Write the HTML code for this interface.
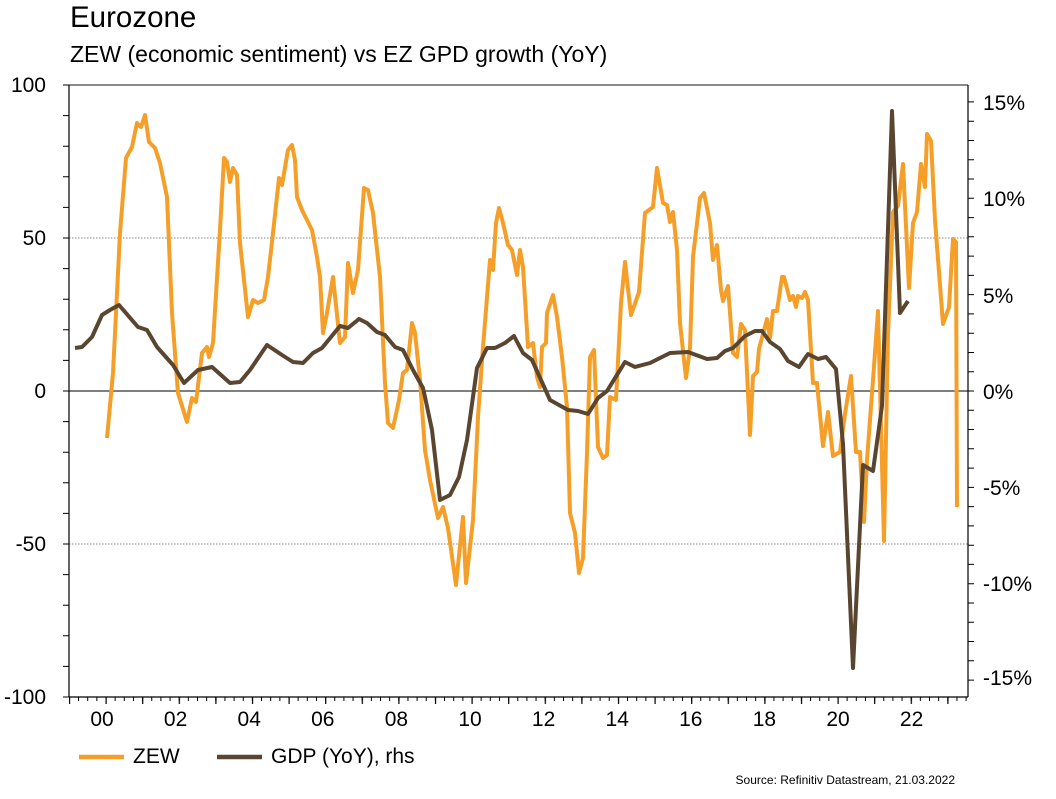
<!DOCTYPE html>
<html><head><meta charset="utf-8"><style>
body{margin:0;background:#fff;}
svg text{font-family:"Liberation Sans",Arial,sans-serif;fill:#000;}
</style></head><body>
<svg width="1056" height="794" viewBox="0 0 1056 794" xmlns="http://www.w3.org/2000/svg">
<defs>
<pattern id="qt" patternUnits="userSpaceOnUse" x="68.9" y="697" width="9.15" height="10"><rect x="0" y="0" width="1" height="4" fill="#000"/></pattern>
<pattern id="yt" patternUnits="userSpaceOnUse" x="68.9" y="697" width="36.6" height="10"><rect x="0" y="0" width="1.2" height="7" fill="#000"/></pattern>
</defs>
<rect width="1056" height="794" fill="#fff"/>
<text x="70" y="27" font-size="29.5">Eurozone</text>
<text x="70" y="62" font-size="23">ZEW (economic sentiment) vs EZ GPD growth (YoY)</text>
<line x1="69" y1="85" x2="968" y2="85" stroke="#444" stroke-width="1.2"/>
<line x1="69" y1="238" x2="968" y2="238" stroke="#888" stroke-width="1" stroke-dasharray="1.5,1.5"/>
<line x1="69" y1="544" x2="968" y2="544" stroke="#888" stroke-width="1" stroke-dasharray="1.5,1.5"/>
<line x1="69" y1="391" x2="968" y2="391" stroke="#333" stroke-width="1.2"/>
<line x1="69" y1="85" x2="69" y2="697" stroke="#000" stroke-width="1.2"/>
<line x1="968" y1="85" x2="968" y2="697" stroke="#000" stroke-width="1.2"/>
<line x1="69" y1="697" x2="968" y2="697" stroke="#000" stroke-width="1.2"/>
<rect x="69" y="697" width="900" height="4" fill="url(#qt)"/>
<rect x="69" y="697" width="900" height="7" fill="url(#yt)"/>
<path stroke="#000" stroke-width="1" fill="none" d="M63 697h6M63 666.4h6M63 635.8h6M63 605.2h6M63 574.6h6M63 544h6M63 513.4h6M63 482.8h6M63 452.2h6M63 421.6h6M63 391h6M63 360.4h6M63 329.8h6M63 299.2h6M63 268.6h6M63 238h6M63 207.4h6M63 176.8h6M63 146.2h6M63 115.6h6M63 85h6"/>
<path stroke="#000" stroke-width="1" fill="none" d="M968 101.9h6M968 121.2h6M968 140.5h6M968 159.8h6M968 179h6M968 198.3h6M968 217.6h6M968 236.8h6M968 256.1h6M968 275.4h6M968 294.6h6M968 313.9h6M968 333.2h6M968 352.5h6M968 371.7h6M968 391h6M968 410.3h6M968 429.5h6M968 448.8h6M968 468.1h6M968 487.4h6M968 506.6h6M968 525.9h6M968 545.2h6M968 564.4h6M968 583.7h6M968 603h6M968 622.2h6M968 641.5h6M968 660.8h6M968 680.1h6"/>
<g font-size="21" text-anchor="end">
<text x="46" y="92">100</text><text x="46" y="245">50</text><text x="46" y="398">0</text><text x="46" y="551">-50</text><text x="46" y="704">-100</text>
</g>
<g font-size="21" text-anchor="start">
<text x="983" y="110">15%</text><text x="983" y="206">10%</text><text x="983" y="303">5%</text><text x="983" y="399">0%</text><text x="983" y="495">-5%</text><text x="983" y="591">-10%</text><text x="983" y="685">-15%</text>
</g>
<g font-size="21" text-anchor="middle">
<text x="102" y="726">00</text><text x="175.6" y="726">02</text><text x="249.2" y="726">04</text><text x="322.8" y="726">06</text><text x="396.4" y="726">08</text><text x="470" y="726">10</text><text x="543.6" y="726">12</text><text x="617.2" y="726">14</text><text x="690.8" y="726">16</text><text x="764.4" y="726">18</text><text x="838" y="726">20</text><text x="911.6" y="726">22</text>
</g>
<polyline fill="none" stroke="#F59E28" stroke-width="4" stroke-linejoin="round" points="107,438 113,373 120,233 126,158 132,147 137,123 141,127 145,115 149,142 155,148 160,163 167,197 172,313 178,393 187,422 192,398 196,402 202,353 207,347 209,357 213,343 220,230 224,158 227,162 230,182 233,168 237,175 240,243 248,317 253,300 258,303 264,300 268,277 273,233 279,178 282,185 288,150 292,145 295,160 297,197 302,210 307,220 312,230 317,257 320,277 323,333 327,313 333,277 340,343 345,337 348,263 353,293 358,270 364,188 368,190 373,213 380,277 385,383 388,423 393,428 399,400 403,373 407,370 412,323 415,333 420,380 425,450 430,480 438,518 443,507 448,528 456,585 463,517 466,583 473,520 478,417 483,347 490,260 493,270 496,223 499,208 503,223 508,245 512,250 517,275 520,250 523,267 528,347 533,343 537,377 540,387 542,347 546,343 547,313 553,295 557,317 562,357 567,407 570,513 575,533 579,573 583,558 587,453 590,357 594,350 598,447 603,458 607,455 610,397 616,400 621,303 625,262 631,315 639,292 645,213 653,207 657,168 663,203 667,205 670,222 673,212 677,250 680,323 686,378 690,348 693,257 700,198 704,193 710,223 713,260 717,245 721,290 723,301 728,286 733,353 737,357 741,324 745,330 750,435 753,376 757,372 759,349 767,319 770,338 773,311 777,311 782,277 784,277 790,300 793,296 796,307 798,296 802,298 805,292 808,300 813,383 817,383 823,446 828,412 833,456 840,452 845,414 851,376 856,452 860,452 864,522 867,460 873,380 878,311 884,541 888,334 893,212 898,206 903,164 909,288 913,223 917,212 921,164 925,187 927,134 931,141 935,220 943,324 949,307 953,239 956,242 957,507"/>
<polyline fill="none" stroke="#5A4630" stroke-width="4" stroke-linejoin="round" points="75,348 82,347 92,337 102,315 110,310 119,305 138,327 147,330 157,347 173,365 184,383 198,370 212,367 230,383 240,382 250,370 267,345 282,355 293,362 303,363 313,353 322,348 340,326 348,328 359,319 367,323 377,332 385,335 395,347 403,350 413,370 423,388 425,397 432,430 440,500 450,495 459,477 467,440 477,368 487,348 495,348 505,343 514,336 523,353 532,360 550,400 568,410 578,411 588,414 598,398 607,391 625,362 635,367 650,363 670,353 688,352 707,359 717,358 725,351 733,348 745,336 755,331 762,331 770,342 780,349 788,361 799,367 808,354 818,359 826,357 836,369 843,444 853,668 863,465 873,471 882,406 892,111 900,313 908,301"/>
<line x1="79" y1="757" x2="124" y2="757" stroke="#F59E28" stroke-width="4.5"/>
<text x="133" y="763" font-size="21">ZEW</text>
<line x1="217" y1="757" x2="262" y2="757" stroke="#5A4630" stroke-width="4.5"/>
<text x="271" y="763" font-size="21">GDP (YoY), rhs</text>
<text x="955" y="784" font-size="12" text-anchor="end">Source: Refinitiv Datastream, 21.03.2022</text>
</svg>
</body></html>
